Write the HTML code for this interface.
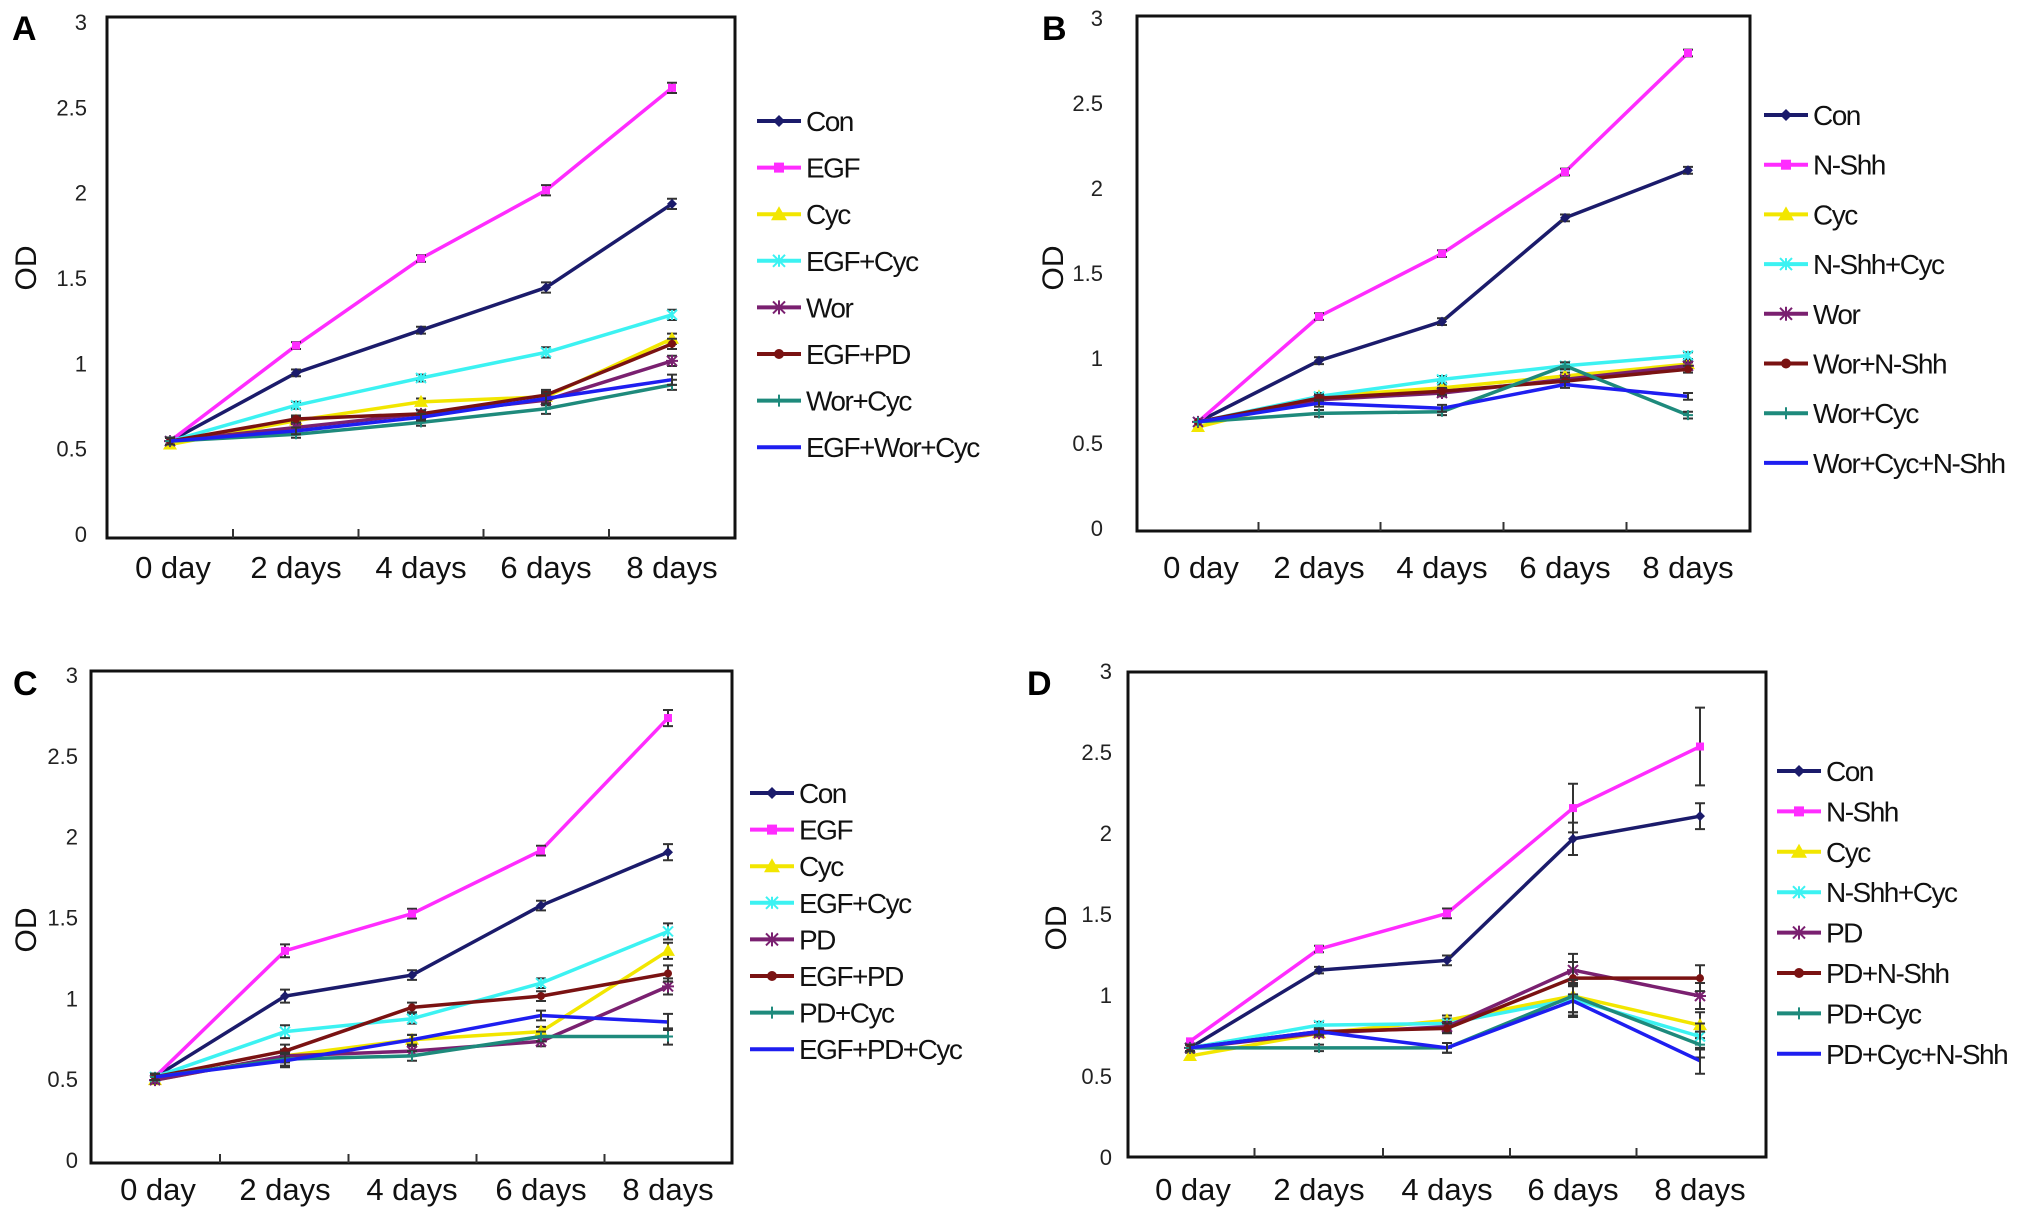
<!DOCTYPE html>
<html><head><meta charset="utf-8">
<style>
html,body{margin:0;padding:0;background:#fff;}
svg{display:block;}
text{font-family:"Liberation Sans",Arial,sans-serif;}
</style></head>
<body>
<svg id="fig" width="2031" height="1221" viewBox="0 0 2031 1221" xmlns="http://www.w3.org/2000/svg"></svg>
<script>
const categories = ["0 day","2 days","4 days","6 days","8 days"];
const yTicks = [0,0.5,1,1.5,2,2.5,3];

// Panel A
const namesA = ["Con","EGF","Cyc","EGF+Cyc","Wor","EGF+PD","Wor+Cyc","EGF+Wor+Cyc"];
const conA = [0.55,0.95,1.20,1.45,1.94];
const egfA = [0.55,1.11,1.62,2.02,2.62];
const cycA = [0.53,0.67,0.78,0.81,1.15];
const egfCycA = [0.55,0.76,0.92,1.07,1.29];
const worA = [0.55,0.63,0.71,0.79,1.02];
const egfPdA = [0.55,0.68,0.71,0.82,1.12];
const worCycA = [0.55,0.59,0.66,0.74,0.88];
const egfWorCycA = [0.55,0.61,0.69,0.80,0.91];
const errA = [0.02,0.02,0.02,0.03,0.03];

// Panel B
const namesB = ["Con","N-Shh","Cyc","N-Shh+Cyc","Wor","Wor+N-Shh","Wor+Cyc","Wor+Cyc+N-Shh"];
const conB = [0.63,0.99,1.22,1.83,2.11];
const shhB = [0.63,1.25,1.62,2.10,2.80];
const cycB = [0.60,0.78,0.83,0.90,0.97];
const shhCycB = [0.63,0.78,0.88,0.96,1.02];
const worB = [0.63,0.76,0.80,0.88,0.96];
const worShhB = [0.63,0.77,0.81,0.87,0.94];
const worCycB = [0.63,0.68,0.69,0.96,0.67];
const worCycShhB = [0.63,0.74,0.71,0.85,0.78];
const errB = [0.01,0.02,0.02,0.02,0.02];

// Panel C
const namesC = ["Con","EGF","Cyc","EGF+Cyc","PD","EGF+PD","PD+Cyc","EGF+PD+Cyc"];
const conC = [0.52,1.02,1.15,1.58,1.91];
const egfC = [0.52,1.30,1.53,1.92,2.74];
const cycC = [0.50,0.65,0.75,0.80,1.30];
const egfCycC = [0.52,0.80,0.88,1.10,1.42];
const pdC = [0.50,0.65,0.68,0.74,1.08];
const egfPdC = [0.52,0.68,0.95,1.02,1.16];
const pdCycC = [0.52,0.63,0.65,0.77,0.77];
const egfPdCycC = [0.52,0.62,0.75,0.90,0.86];
const errC = [0.02,0.04,0.03,0.03,0.05];

// Panel D
const namesD = ["Con","N-Shh","Cyc","N-Shh+Cyc","PD","PD+N-Shh","PD+Cyc","PD+Cyc+N-Shh"];
const conD = [0.68,1.16,1.22,1.97,2.11];
const shhD = [0.72,1.29,1.51,2.16,2.54];
const cycD = [0.63,0.77,0.85,1.00,0.82];
const shhCycD = [0.68,0.82,0.83,0.98,0.75];
const pdD = [0.68,0.77,0.81,1.16,1.00];
const pdShhD = [0.68,0.78,0.80,1.11,1.11];
const pdCycD = [0.68,0.68,0.68,1.00,0.70];
const pdCycShhD = [0.68,0.78,0.68,0.97,0.60];
const errD = [0.02,0.02,0.03,0.10,0.08];
const errShhD = [0.01,0.02,0.03,0.15,0.24];

const colors = ["#1b1b6b","#ff2cff","#f2e600","#3cf2f2","#7a2070","#7a1212","#1e8a7c","#1e1ef0"];
const markers = ["diamond","square","triangle","xstar","asterisk","circle","plus","none"];

const NS="http://www.w3.org/2000/svg";
const svg=document.getElementById('fig');
function mk(tag,attrs,parent){const e=document.createElementNS(NS,tag);for(const k in attrs)e.setAttribute(k,attrs[k]);(parent||svg).appendChild(e);return e;}

const panels=[
 {id:"a",letter:"A",letterX:12,letterY:40,box:[107,17,735,538],y0:535,y3:23,xs:[170,296,421,546,672],tickX:87,odX:28,odY:268,catY:578,
  legX:757,legTop:121,legStep:46.6,names:namesA,series:[conA,egfA,cycA,egfCycA,worA,egfPdA,worCycA,egfWorCycA],errs:[errA,errA,errA,errA,errA,errA,errA,errA]},
 {id:"b",letter:"B",letterX:1042,letterY:40,box:[1137,16,1750,531],y0:529,y3:19,xs:[1198,1319,1442,1565,1688],tickX:1103,odX:1055,odY:268,catY:578,
  legX:1764,legTop:115,legStep:49.7,names:namesB,series:[conB,shhB,cycB,shhCycB,worB,worShhB,worCycB,worCycShhB],errs:[errB,errB,errB,errB,errB,errB,errB,errB]},
 {id:"c",letter:"C",letterX:13,letterY:695,box:[91,671,732,1163],y0:1161,y3:676,xs:[155,285,412,541,668],tickX:78,odX:28,odY:930,catY:1200,
  legX:750,legTop:793,legStep:36.6,names:namesC,series:[conC,egfC,cycC,egfCycC,pdC,egfPdC,pdCycC,egfPdCycC],errs:[errC,errC,errC,errC,errC,errC,errC,errC]},
 {id:"d",letter:"D",letterX:1027,letterY:695,box:[1128,672,1766,1157],y0:1158,y3:672,xs:[1190,1319,1447,1573,1700],tickX:1112,odX:1058,odY:928,catY:1200,
  legX:1777,legTop:771,legStep:40.4,names:namesD,series:[conD,shhD,cycD,shhCycD,pdD,pdShhD,pdCycD,pdCycShhD],errs:[errD,errShhD,errD,errD,errD,errD,errD,errD]}
];

function marker(g,type,x,y,c,s){
  s=s||6;
  if(type==="diamond")mk('path',{d:`M${x} ${y-s}L${x+s} ${y}L${x} ${y+s}L${x-s} ${y}Z`,fill:c},g);
  else if(type==="square")mk('rect',{x:x-s+1,y:y-s+1,width:2*s-2,height:2*s-2,fill:c},g);
  else if(type==="triangle")mk('path',{d:`M${x} ${y-s-2}L${x+s+2} ${y+s}L${x-s-2} ${y+s}Z`,fill:c},g);
  else if(type==="xstar"){mk('path',{d:`M${x-s} ${y-s}L${x+s} ${y+s}M${x-s} ${y+s}L${x+s} ${y-s}M${x} ${y-s}L${x} ${y+s}`,stroke:c,'stroke-width':2},g);}
  else if(type==="asterisk"){mk('path',{d:`M${x-s} ${y-s}L${x+s} ${y+s}M${x-s} ${y+s}L${x+s} ${y-s}M${x} ${y-s-1}L${x} ${y+s+1}M${x-s-1} ${y}L${x+s+1} ${y}`,stroke:c,'stroke-width':2},g);}
  else if(type==="circle")mk('circle',{cx:x,cy:y,r:s-1,fill:c},g);
  else if(type==="plus")mk('path',{d:`M${x-s} ${y}L${x+s} ${y}M${x} ${y-s}L${x} ${y+s}`,stroke:c,'stroke-width':2},g);
}

panels.forEach(p=>{
  const g=mk('g',{});
  
  
  const yS=v=>p.y0-(p.y0-p.y3)*v/3;
  const [L,T,R,B]=p.box;
  const lt=mk('text',{x:p.letterX,y:p.letterY,'font-size':34,'font-weight':'bold',fill:'#000'},g);
  lt.textContent=p.letter;
  
  
  const frame=mk('rect',{x:L,y:T,width:R-L,height:B-T,fill:'none',stroke:'#111','stroke-width':3},g);
  
  
  for(let i=0;i<4;i++){
    const tx=(p.xs[i]+p.xs[i+1])/2;
    const tk=mk('line',{x1:tx,x2:tx,y1:B,y2:B-9,stroke:'#333','stroke-width':2},g);
    
    
  }
  yTicks.forEach(v=>{
    const t=mk('text',{x:p.tickX,y:yS(v)+7,'font-size':22,'text-anchor':'end',fill:'#222'},g);
    t.textContent=String(v);
    
    
  });
  categories.forEach((c,i)=>{
    const t=mk('text',{x:p.xs[i]+(i===0?3:0),y:p.catY,'font-size':31,'text-anchor':'middle',fill:'#111'},g);
    t.textContent=c;
    
    
  });
  const od=mk('text',{x:p.odX,y:p.odY,'font-size':30,'text-anchor':'middle',fill:'#111',transform:`rotate(-90 ${p.odX} ${p.odY})`,'dominant-baseline':'middle'},g);
  od.textContent='OD';
  
  
  p.series.forEach((vals,si)=>{
    const sg=mk('g',{},g);
    
    
    const c=colors[si];
    const pts=vals.map((v,i)=>`${p.xs[i]},${yS(v)}`).join(' ');
    const pl=mk('polyline',{points:pts,fill:'none',stroke:c,'stroke-width':3.5,'stroke-linejoin':'round'},sg);
    
    
    vals.forEach((v,i)=>{
      const e=p.errs[si][i];
      if(e>0.015){
        const eb=mk('path',{d:`M${p.xs[i]} ${yS(v+e)}L${p.xs[i]} ${yS(v-e)}M${p.xs[i]-5} ${yS(v+e)}L${p.xs[i]+5} ${yS(v+e)}M${p.xs[i]-5} ${yS(v-e)}L${p.xs[i]+5} ${yS(v-e)}`,stroke:'#333','stroke-width':2,fill:'none'},sg);
        
        
      }
      marker(sg,markers[si],p.xs[i],yS(v),c,5);
    });
    const ly=p.legTop+si*p.legStep;
    const le=mk('g',{},g);
    
    
    mk('line',{x1:p.legX,x2:p.legX+44,y1:ly,y2:ly,stroke:c,'stroke-width':4},le);
    marker(le,markers[si],p.legX+22,ly,c,6);
    const lt2=mk('text',{x:p.legX+49,y:ly+10,'font-size':28,fill:'#111','letter-spacing':'-1.5'},le);
    lt2.textContent=p.names[si];
  });
});
</script>
</body></html>
